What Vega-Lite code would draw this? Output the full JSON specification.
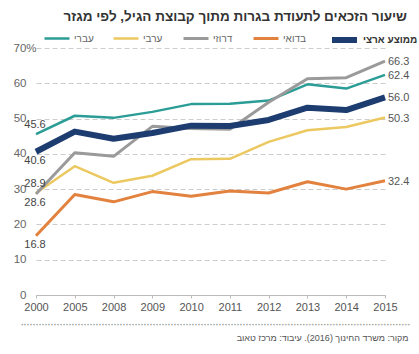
{
  "$schema": "https://vega.github.io/schema/vega-lite/v6.json",
  "width": 349,
  "height": 247,
  "autosize": {"type": "none"},
  "padding": {"left": 36, "top": 48, "right": 34, "bottom": 59},
  "background": "white",
  "title": {
    "text": "שיעור הזכאים לתעודת בגרות מתוך קבוצת הגיל, לפי מגזר",
    "anchor": "end",
    "frame": "group",
    "dx": 22,
    "offset": 1,
    "font": "Liberation Sans",
    "fontSize": 13.5,
    "fontWeight": "bold",
    "color": "#333333"
  },
  "data": {
    "values": [
      {"year": "2000", "series": "ערבי", "value": 28.9},
      {"year": "2005", "series": "ערבי", "value": 36.5},
      {"year": "2008", "series": "ערבי", "value": 31.8},
      {"year": "2009", "series": "ערבי", "value": 33.8},
      {"year": "2010", "series": "ערבי", "value": 38.5},
      {"year": "2011", "series": "ערבי", "value": 38.6},
      {"year": "2012", "series": "ערבי", "value": 43.4},
      {"year": "2013", "series": "ערבי", "value": 46.7},
      {"year": "2014", "series": "ערבי", "value": 47.6},
      {"year": "2015", "series": "ערבי", "value": 50.3},
      {"year": "2000", "series": "בדואי", "value": 16.8},
      {"year": "2005", "series": "בדואי", "value": 28.5},
      {"year": "2008", "series": "בדואי", "value": 26.4},
      {"year": "2009", "series": "בדואי", "value": 29.3},
      {"year": "2010", "series": "בדואי", "value": 28.0},
      {"year": "2011", "series": "בדואי", "value": 29.5},
      {"year": "2012", "series": "בדואי", "value": 28.9},
      {"year": "2013", "series": "בדואי", "value": 32.1},
      {"year": "2014", "series": "בדואי", "value": 30.0},
      {"year": "2015", "series": "בדואי", "value": 32.4},
      {"year": "2000", "series": "עברי", "value": 45.6},
      {"year": "2005", "series": "עברי", "value": 50.8},
      {"year": "2008", "series": "עברי", "value": 50.2},
      {"year": "2009", "series": "עברי", "value": 51.9},
      {"year": "2010", "series": "עברי", "value": 54.1},
      {"year": "2011", "series": "עברי", "value": 54.2},
      {"year": "2012", "series": "עברי", "value": 55.1},
      {"year": "2013", "series": "עברי", "value": 59.7},
      {"year": "2014", "series": "עברי", "value": 58.5},
      {"year": "2015", "series": "עברי", "value": 62.4},
      {"year": "2000", "series": "דרוזי", "value": 28.6},
      {"year": "2005", "series": "דרוזי", "value": 40.3},
      {"year": "2008", "series": "דרוזי", "value": 39.3},
      {"year": "2009", "series": "דרוזי", "value": 47.8},
      {"year": "2010", "series": "דרוזי", "value": 47.2},
      {"year": "2011", "series": "דרוזי", "value": 47.0},
      {"year": "2012", "series": "דרוזי", "value": 54.6},
      {"year": "2013", "series": "דרוזי", "value": 61.3},
      {"year": "2014", "series": "דרוזי", "value": 61.6},
      {"year": "2015", "series": "דרוזי", "value": 66.3},
      {"year": "2000", "series": "ממוצע ארצי", "value": 40.6},
      {"year": "2005", "series": "ממוצע ארצי", "value": 46.3},
      {"year": "2008", "series": "ממוצע ארצי", "value": 44.3},
      {"year": "2009", "series": "ממוצע ארצי", "value": 45.9},
      {"year": "2010", "series": "ממוצע ארצי", "value": 48.0},
      {"year": "2011", "series": "ממוצע ארצי", "value": 47.9},
      {"year": "2012", "series": "ממוצע ארצי", "value": 49.6},
      {"year": "2013", "series": "ממוצע ארצי", "value": 53.1},
      {"year": "2014", "series": "ממוצע ארצי", "value": 52.4},
      {"year": "2015", "series": "ממוצע ארצי", "value": 56.0}
    ]
  },
  "encoding": {
    "x": {"field": "year", "type": "ordinal", "scale": {"type": "point", "padding": 0}, "axis": null},
    "y": {
      "field": "value", "type": "quantitative", "scale": {"domain": [0, 70], "nice": false},
      "axis": {
        "title": null,
        "values": [0, 10, 20, 30, 40, 50, 60, 70],
        "labelOverlap": false,
        "labelExpr": "datum.value == 70 ? '70%' : datum.label",
        "labelFont": "Liberation Sans",
        "labelFontSize": 11.5,
        "labelColor": "#666666",
        "labelAlign": {"condition": {"test": "datum.value == 70", "value": "left"}, "value": "right"},
        "labelPadding": {"condition": {"test": "datum.value == 70", "value": 23}, "value": 10},
        "domain": false,
        "ticks": false,
        "grid": true,
        "gridColor": "#cccccc",
        "gridDash": [5, 3],
        "gridWidth": 1
      }
    }
  },
  "layer": [
    {
      "mark": {"type": "line", "strokeJoin": "round", "strokeCap": "butt"},
      "encoding": {
        "x": {
          "field": "year", "type": "ordinal", "scale": {"type": "point", "padding": 0},
          "axis": {
            "orient": "bottom",
            "labelAngle": 0,
            "labelFont": "Liberation Sans",
            "labelFontSize": 11,
            "labelColor": "#555555",
            "labelPadding": 3,
            "domainColor": "#bbbbbb",
            "tickColor": "#bbbbbb",
            "tickSize": 3,
            "grid": false,
            "title": "··································································································································",
            "titleFont": "Liberation Sans",
            "titleFontSize": 9,
            "titleFontWeight": "bold",
            "titleColor": "#999999",
            "titleAnchor": "end",
            "titleAlign": "right",
            "titleX": 374,
            "titlePadding": 8
          }
        },
        "color": {
          "field": "series", "type": "nominal",
          "scale": {
            "domain": ["עברי", "ערבי", "דרוזי", "בדואי", "ממוצע ארצי"],
            "range": ["#2b9d96", "#ecc860", "#9a9a9a", "#e2823e", "#1d3c6f"]
          },
          "legend": {
            "title": null,
            "orient": "none",
            "direction": "horizontal",
            "gridAlign": "none",
            "legendX": 7,
            "legendY": -23.5,
            "symbolType": "stroke",
            "symbolSize": 625,
            "columnPadding": 14,
            "labelOffset": 3,
            "labelFont": "Liberation Sans",
            "labelFontSize": 10,
            "labelColor": {"expr": "datum.label === 'ממוצע ארצי' ? '#333333' : '#666666'"},
            "labelFontWeight": {"expr": "datum.label === 'ממוצע ארצי' ? 'bold' : 'normal'"}
          }
        },
        "strokeWidth": {
          "field": "series", "type": "nominal",
          "scale": {
            "type": "ordinal",
            "domain": ["עברי", "ערבי", "דרוזי", "בדואי", "ממוצע ארצי"],
            "range": [2.5, 2.5, 3, 3, 6]
          },
          "legend": {"title": null}
        }
      }
    },
    {
      "transform": [{"filter": "datum.year == '2000' && (datum.series == 'עברי' || datum.series == 'ערבי')"}],
      "mark": {"type": "text", "align": "center", "baseline": "middle", "dx": -1, "dy": -9, "font": "Liberation Sans", "fontSize": 11, "color": "#444444"},
      "encoding": {
        "text": {"field": "value", "type": "quantitative", "format": ".1f"}
      }
    },
    {
      "transform": [{"filter": "datum.year == '2000' && datum.series != 'עברי' && datum.series != 'ערבי'"}],
      "mark": {"type": "text", "align": "center", "baseline": "middle", "dx": -1, "dy": 9, "font": "Liberation Sans", "fontSize": 11, "color": "#444444"},
      "encoding": {
        "text": {"field": "value", "type": "quantitative", "format": ".1f"}
      }
    },
    {
      "transform": [{"filter": "datum.year == '2015'"}],
      "mark": {"type": "text", "align": "left", "baseline": "middle", "dx": 3, "dy": 1, "font": "Liberation Sans", "fontSize": 11, "color": "#555555"},
      "encoding": {
        "x": {
          "field": "year", "type": "ordinal", "scale": {"type": "point", "padding": 0},
          "axis": {
            "orient": "bottom",
            "labels": false,
            "ticks": false,
            "domain": false,
            "grid": false,
            "offset": 0,
            "title": "מקור: משרד החינוך (2016). עיבוד: מרכז טאוב",
            "titleFont": "Liberation Sans",
            "titleFontSize": 9,
            "titleFontWeight": "normal",
            "titleColor": "#555555",
            "titleAnchor": "end",
            "titleAlign": "right",
            "titleX": 372,
            "titlePadding": 38
          }
        },
        "text": {"field": "value", "type": "quantitative", "format": ".1f"}
      }
    }
  ],
  "resolve": {"axis": {"x": "independent"}},
  "config": {
    "view": {"stroke": null},
    "font": "Liberation Sans"
  }
}
